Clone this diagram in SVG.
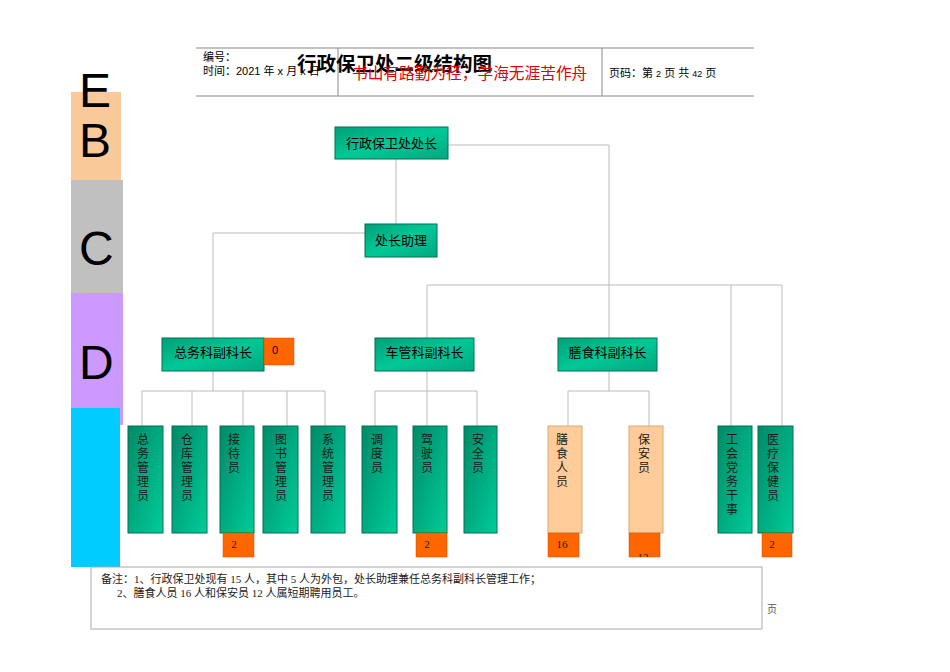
<svg xmlns="http://www.w3.org/2000/svg" width="950" height="672" viewBox="0 0 950 672">
<defs>
<linearGradient id="g" x1="0" y1="0" x2="1" y2="1">
<stop offset="0" stop-color="#008A68"/>
<stop offset="1" stop-color="#00CC99"/>
</linearGradient>
<linearGradient id="gh" x1="0" y1="0" x2="1" y2="1">
<stop offset="0" stop-color="#00A078"/>
<stop offset="0.5" stop-color="#00C896"/>
<stop offset="1" stop-color="#00A880"/>
</linearGradient>
<clipPath id="clip12"><rect x="629" y="533" width="31" height="24"/></clipPath>
</defs>
<style>
.t{font-family:"Liberation Sans","Noto Sans CJK SC",sans-serif;fill:#000}
.s{font-family:"Liberation Serif","Noto Sans CJK SC",serif;fill:#1a1a1a}
.node{fill:url(#gh);stroke:#007050;stroke-width:1}
.vnode{fill:url(#g);stroke:#007050;stroke-width:1}
.peach{fill:#FFCC99;stroke:#D9A878;stroke-width:1}
.cnt{fill:#FF6600;stroke:#D05000;stroke-width:0.5}
.ln{stroke:#BBBBBB;stroke-width:1;fill:none}
.hl{stroke:#888888;stroke-width:1;fill:none}
.nl{font-size:13px;text-anchor:middle}
.vl{font-size:12px;text-anchor:middle}
.cn{font-size:11px;text-anchor:middle}
</style>
<rect width="950" height="672" fill="#fff"/>

<!-- left band -->
<g id="band">
<rect x="71" y="92" width="50" height="88" fill="#F9C99A"/>
<rect x="71" y="180" width="52" height="113" fill="#C0C0C0"/>
<rect x="71" y="293" width="52" height="132" fill="#CC99FF"/>
<rect x="71" y="408" width="49" height="159" fill="#00CCFF"/>
<text class="t" x="79" y="107" font-size="48">E</text>
<text class="t" x="79" y="157" font-size="48">B</text>
<text class="t" x="79" y="265" font-size="48">C</text>
<text class="t" x="79" y="379" font-size="48">D</text>
</g>

<!-- header -->
<g id="header">
<line class="hl" x1="196" y1="48" x2="754" y2="48"/>
<line class="hl" x1="196" y1="96" x2="754" y2="96"/>
<line class="hl" x1="338" y1="48" x2="338" y2="96"/>
<line class="hl" x1="602" y1="48" x2="602" y2="96"/>
<text class="t" x="203" y="61" font-size="11">编号：</text>
<text class="t" x="203" y="75" font-size="11">时间：2021 年 x 月 x 日</text>
<text class="t" x="297" y="71" font-size="19.5" font-weight="bold">行政保卫处二级结构图</text>
<text class="t" x="352" y="79" font-size="15.7" style="fill:#E00000">书山有路勤为径，学海无涯苦作舟</text>
<text class="t" x="609" y="77" font-size="11">页码：第 <tspan font-size="9">2</tspan> 页  共 <tspan font-size="9">42</tspan> 页</text>
</g>

<!-- connectors -->
<g id="connectors">
<path class="ln" d="M396,159 V224"/>
<path class="ln" d="M365,233 H213 V338"/>
<path class="ln" d="M448,145 H609 V338"/>
<path class="ln" d="M427,338 V285 H782 V426"/>
<path class="ln" d="M731,285 V426"/>
<path class="ln" d="M213,371 V391"/>
<path class="ln" d="M142,426 V391 H325 V426"/>
<path class="ln" d="M192,391 V426 M243,391 V426 M287,391 V426"/>
<path class="ln" d="M427,371 V426"/>
<path class="ln" d="M375,426 V391 H477 V426"/>
<path class="ln" d="M609,371 V391"/>
<path class="ln" d="M568,426 V391 H649 V426"/>
</g>

<!-- top nodes -->
<g id="n-chief">
<rect class="node" x="335" y="127" width="113" height="32"/>
<text class="t nl" x="391.5" y="148">行政保卫处处长</text>
</g>
<g id="n-assistant">
<rect class="node" x="365" y="224" width="72" height="33"/>
<text class="t nl" x="401" y="245">处长助理</text>
</g>
<g id="n-zongwu">
<rect class="node" x="162" y="338" width="102" height="33"/>
<text class="t nl" x="213" y="357">总务科副科长</text>
<rect class="cnt" x="264" y="338" width="30" height="27"/>
<text class="t" x="272" y="354" font-size="11">0</text>
</g>
<g id="n-cheguan">
<rect class="node" x="375" y="338" width="99" height="33"/>
<text class="t nl" x="424.5" y="357">车管科副科长</text>
</g>
<g id="n-shanshi">
<rect class="node" x="558" y="338" width="99" height="33"/>
<text class="t nl" x="607.5" y="357">膳食科副科长</text>
</g>

<!-- leaf nodes -->
<g id="n-zwgly">
<rect class="vnode" x="128" y="426" width="35" height="107"/>
<text class="s vl"><tspan x="143" y="444">总</tspan><tspan x="143" y="458">务</tspan><tspan x="143" y="472">管</tspan><tspan x="143" y="486">理</tspan><tspan x="143" y="500">员</tspan></text>
</g>
<g id="n-ckgly">
<rect class="vnode" x="172" y="426" width="35" height="107"/>
<text class="s vl"><tspan x="187" y="444">仓</tspan><tspan x="187" y="458">库</tspan><tspan x="187" y="472">管</tspan><tspan x="187" y="486">理</tspan><tspan x="187" y="500">员</tspan></text>
</g>
<g id="n-jdy">
<rect class="vnode" x="220" y="426" width="34" height="107"/>
<text class="s vl"><tspan x="234" y="444">接</tspan><tspan x="234" y="458">待</tspan><tspan x="234" y="472">员</tspan></text>
<rect class="cnt" x="223" y="533" width="31" height="24"/>
<text class="s cn" x="234" y="548">2</text>
</g>
<g id="n-tsgly">
<rect class="vnode" x="263" y="426" width="35" height="107"/>
<text class="s vl"><tspan x="281" y="444">图</tspan><tspan x="281" y="458">书</tspan><tspan x="281" y="472">管</tspan><tspan x="281" y="486">理</tspan><tspan x="281" y="500">员</tspan></text>
</g>
<g id="n-xtgly">
<rect class="vnode" x="311" y="426" width="34" height="107"/>
<text class="s vl"><tspan x="328" y="444">系</tspan><tspan x="328" y="458">统</tspan><tspan x="328" y="472">管</tspan><tspan x="328" y="486">理</tspan><tspan x="328" y="500">员</tspan></text>
</g>
<g id="n-ddy">
<rect class="vnode" x="362" y="426" width="35" height="107"/>
<text class="s vl"><tspan x="377" y="444">调</tspan><tspan x="377" y="458">度</tspan><tspan x="377" y="472">员</tspan></text>
</g>
<g id="n-jsy">
<rect class="vnode" x="413" y="426" width="34" height="107"/>
<text class="s vl"><tspan x="427" y="444">驾</tspan><tspan x="427" y="458">驶</tspan><tspan x="427" y="472">员</tspan></text>
<rect class="cnt" x="416" y="533" width="31" height="24"/>
<text class="s cn" x="427" y="548">2</text>
</g>
<g id="n-aqy">
<rect class="vnode" x="464" y="426" width="33" height="107"/>
<text class="s vl"><tspan x="478" y="444">安</tspan><tspan x="478" y="458">全</tspan><tspan x="478" y="472">员</tspan></text>
</g>
<g id="n-ssry">
<rect class="peach" x="548" y="426" width="34" height="107"/>
<text class="s vl"><tspan x="562" y="444">膳</tspan><tspan x="562" y="458">食</tspan><tspan x="562" y="472">人</tspan><tspan x="562" y="486">员</tspan></text>
<rect class="cnt" x="548" y="533" width="31" height="24"/>
<text class="s cn" x="562" y="548">16</text>
</g>
<g id="n-bay">
<rect class="peach" x="629" y="426" width="34" height="107"/>
<text class="s vl"><tspan x="644" y="444">保</tspan><tspan x="644" y="458">安</tspan><tspan x="644" y="472">员</tspan></text>
<rect class="cnt" x="629" y="533" width="31" height="24"/>
<text class="s cn" x="643" y="561" clip-path="url(#clip12)">12</text>
</g>
<g id="n-ghdw">
<rect class="vnode" x="718" y="426" width="34" height="107"/>
<text class="s vl"><tspan x="732" y="444">工</tspan><tspan x="732" y="458">会</tspan><tspan x="732" y="472">党</tspan><tspan x="732" y="486">务</tspan><tspan x="732" y="500">干</tspan><tspan x="732" y="514">事</tspan></text>
</g>
<g id="n-ylbj">
<rect class="vnode" x="758" y="426" width="35" height="107"/>
<text class="s vl"><tspan x="773" y="444">医</tspan><tspan x="773" y="458">疗</tspan><tspan x="773" y="472">保</tspan><tspan x="773" y="486">健</tspan><tspan x="773" y="500">员</tspan></text>
<rect class="cnt" x="762" y="533" width="30" height="24"/>
<text class="s cn" x="772" y="548">2</text>
</g>

<!-- notes -->
<g id="notes">
<rect x="91" y="567" width="671" height="62" fill="#fff" stroke="#AAAAAA" stroke-width="1"/>
<text class="s" x="101" y="583" font-size="11">备注：1、行政保卫处现有 15 人，其中 5 人为外包，处长助理兼任总务科副科长管理工作；</text>
<text class="s" x="117" y="597" font-size="11">2、膳食人员 16 人和保安员 12 人属短期聘用员工。</text>
<text class="s" x="767" y="613" font-size="10" style="fill:#555">页</text>
</g>
</svg>
